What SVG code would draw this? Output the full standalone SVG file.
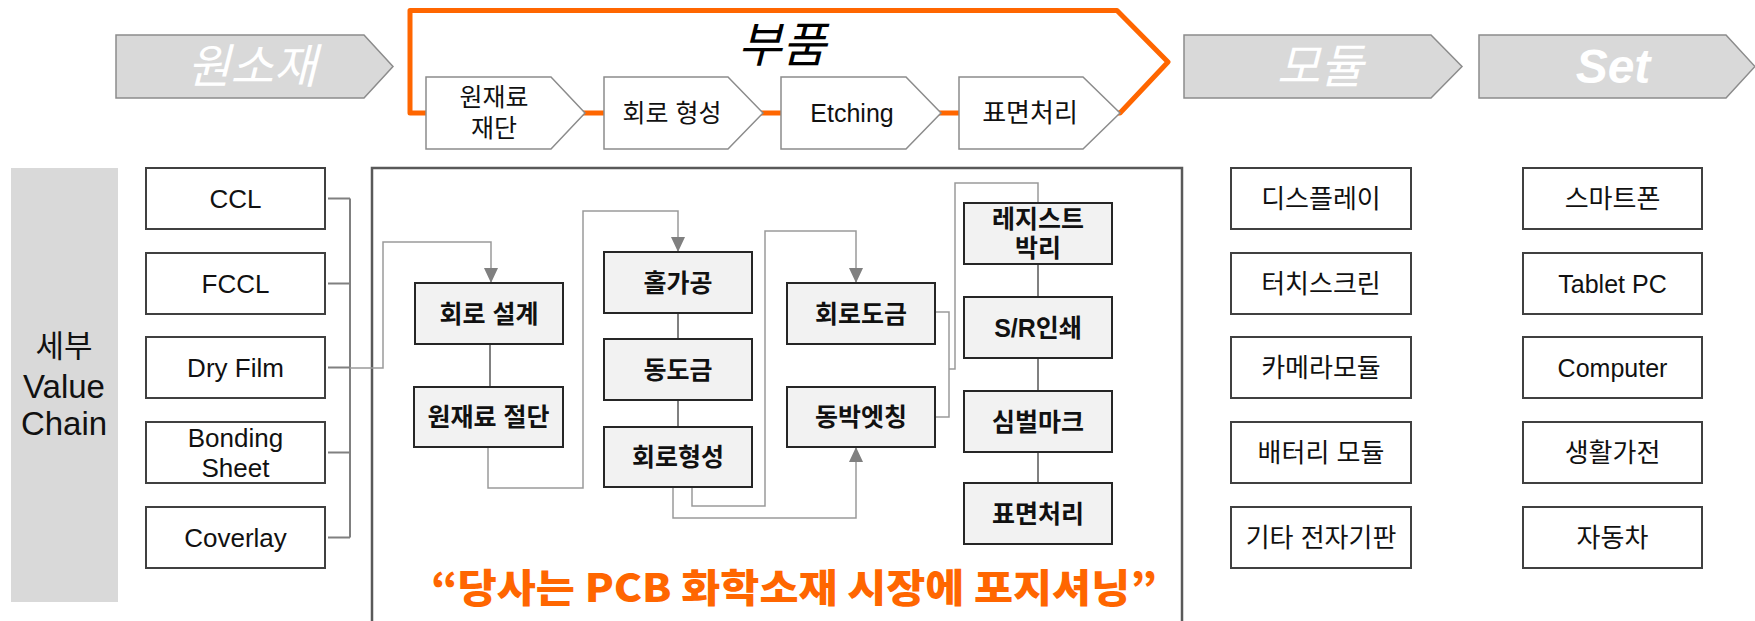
<svg xmlns="http://www.w3.org/2000/svg" width="1755" height="621" viewBox="0 0 1755 621">
<style>
text{font-family:"Liberation Sans","Noto Sans CJK KR",sans-serif;text-anchor:middle;dominant-baseline:central}
.stage{fill:#d9d9d9;stroke:#8c8c8c;stroke-width:1.5}
.stageT{fill:#fff;font-style:italic;font-size:47px}
.step{fill:#fff;stroke:#8c8c8c;stroke-width:1.5}
.stepT{fill:#111;font-size:25px}
.box{fill:#fff;stroke:#404040;stroke-width:2}
.boxT{fill:#111;font-size:26px}
.mT{fill:#111;font-size:26px}
.pbox{fill:#f2f2f2;stroke:#262626;stroke-width:2}
.pT{fill:#111;font-size:25px;font-weight:bold}
.ln{fill:none;stroke:#808080;stroke-width:2}
.lt{fill:none;stroke:#9a9a9a;stroke-width:1.5}
</style>
<defs>
<marker id="arr" viewBox="0 0 15 14" refX="15" refY="7" markerWidth="15" markerHeight="14" markerUnits="userSpaceOnUse" orient="auto"><path d="M0,0 L15,7 L0,14 Z" fill="#808080"/></marker>
</defs>
<rect width="1755" height="621" fill="#fff"/>

<g id="stage-raw">
<polygon class="stage" points="116,35 364,35 393,66.5 364,98 116,98"/>
<text class="stageT" x="252" y="66">원소재</text>
</g>
<g id="stage-parts">
<path d="M1120,113 L1168,62 L1117,10.5 H410 V113 Z" fill="none" stroke="#ff6600" stroke-width="5" stroke-linejoin="round"/>
<text x="782" y="45" style="font-size:48px;font-style:italic;fill:#000">부품</text>
</g>
<g id="stage-module">
<polygon class="stage" points="1184,35 1431,35 1462,66.5 1431,98 1184,98"/>
<text class="stageT" x="1320" y="66">모듈</text>
</g>
<g id="stage-set">
<polygon class="stage" points="1479,35 1726,35 1755,66.5 1726,98 1479,98"/>
<text class="stageT" x="1613" y="66" style="font-weight:bold;font-size:48px">Set</text>
</g>

<g id="step-cut">
<polygon class="step" points="426,77 551,77 585,113 551,149 426,149"/>
<text class="stepT" x="494" y="97">원재료</text>
<text class="stepT" x="494" y="128">재단</text>
</g>
<g id="step-circuit">
<polygon class="step" points="604,77 728,77 763,113 728,149 604,149"/>
<text class="stepT" x="672" y="113">회로 형성</text>
</g>
<g id="step-etching">
<polygon class="step" points="781,77 906,77 941,113 906,149 781,149"/>
<text class="stepT" x="852" y="113">Etching</text>
</g>
<g id="step-surface">
<polygon class="step" points="959,77 1083,77 1120,113 1083,149 959,149"/>
<text class="stepT" x="1030" y="113" style="font-size:26px">표면처리</text>
</g>

<g id="side-label">
<rect x="11" y="168" width="107" height="434" fill="#d9d9d9"/>
<text x="64" y="346" style="font-size:31px;fill:#111">세부</text>
<text x="64" y="386" style="font-size:33px;fill:#111">Value</text>
<text x="64" y="423" style="font-size:33px;fill:#111">Chain</text>
</g>

<g id="mat-ccl"><rect class="box" x="146" y="168" width="179" height="61"/><text class="boxT" x="235.5" y="198.5">CCL</text></g>
<g id="mat-fccl"><rect class="box" x="146" y="253" width="179" height="61"/><text class="boxT" x="235.5" y="283.5">FCCL</text></g>
<g id="mat-dryfilm"><rect class="box" x="146" y="337" width="179" height="61"/><text class="boxT" x="235.5" y="367.5">Dry Film</text></g>
<g id="mat-bonding"><rect class="box" x="146" y="422" width="179" height="61"/><text class="boxT" x="235.5" y="438">Bonding</text><text class="boxT" x="235.5" y="468">Sheet</text></g>
<g id="mat-coverlay"><rect class="box" x="146" y="507" width="179" height="61"/><text class="boxT" x="235.5" y="537.5">Coverlay</text></g>

<g id="process-frame">
<rect x="372" y="168" width="810" height="480" fill="none" stroke="#595959" stroke-width="2.5"/>
</g>

<g id="connectors">
<path class="ln" d="M328,198.5 H350 M328,283.5 H350 M328,367.5 H350 M328,452.5 H350 M328,537.5 H350 M350,198.5 V537.5"/>
<path class="lt" d="M350,368 H383 V242 H491 V283" marker-end="url(#arr)"/>
<path class="ln" d="M490,344 V387"/>
<path class="lt" d="M488,447 V488 H583 V211 H678 V252" marker-end="url(#arr)"/>
<path class="ln" d="M678,313 V339 M678,400 V427"/>
<path class="lt" d="M692,487 V506 H765 V231 H856 V283" marker-end="url(#arr)"/>
<path class="lt" d="M673,487 V518 H856 V447" marker-end="url(#arr)"/>
<path class="lt" d="M935,312 H949 V417 H935 M949,369 H955 V183 H1038 V203"/>
<path class="ln" d="M1038,264 V297 M1038,358 V391 M1038,452 V483"/>
</g>

<g id="p-design"><rect class="pbox" x="415" y="283" width="148" height="61"/><text class="pT" x="489" y="313.5">회로 설계</text></g>
<g id="p-cut"><rect class="pbox" x="414" y="387" width="149" height="60"/><text class="pT" x="488.5" y="417">원재료 절단</text></g>
<g id="p-hole"><rect class="pbox" x="604" y="252" width="148" height="61"/><text class="pT" x="678" y="282.5">홀가공</text></g>
<g id="p-copper"><rect class="pbox" x="604" y="339" width="148" height="61"/><text class="pT" x="678" y="369.5">동도금</text></g>
<g id="p-circuit"><rect class="pbox" x="604" y="427" width="148" height="60"/><text class="pT" x="678" y="457">회로형성</text></g>
<g id="p-plating"><rect class="pbox" x="787" y="283" width="148" height="61"/><text class="pT" x="861" y="313.5">회로도금</text></g>
<g id="p-etch"><rect class="pbox" x="787" y="387" width="148" height="60"/><text class="pT" x="861" y="417">동박엣칭</text></g>
<g id="p-resist"><rect class="pbox" x="964" y="203" width="148" height="61"/><text class="pT" x="1038" y="219">레지스트</text><text class="pT" x="1038" y="248">박리</text></g>
<g id="p-sr"><rect class="pbox" x="964" y="297" width="148" height="61"/><text class="pT" x="1038" y="327.5">S/R인쇄</text></g>
<g id="p-symbol"><rect class="pbox" x="964" y="391" width="148" height="61"/><text class="pT" x="1038" y="421.5">심벌마크</text></g>
<g id="p-surface"><rect class="pbox" x="964" y="483" width="148" height="61"/><text class="pT" x="1038" y="513.5">표면처리</text></g>

<g id="slogan">
<text x="794" y="585" textLength="726" lengthAdjust="spacingAndGlyphs" style="font-family:'Noto Sans CJK KR',sans-serif;font-size:39px;font-weight:900;fill:#ff6600">“당사는 PCB 화학소재 시장에 포지셔닝”</text>
</g>

<g id="mod-display"><rect class="box" x="1231" y="168" width="180" height="61"/><text class="mT" x="1321" y="198.5">디스플레이</text></g>
<g id="mod-touch"><rect class="box" x="1231" y="253" width="180" height="61"/><text class="mT" x="1321" y="283.5">터치스크린</text></g>
<g id="mod-camera"><rect class="box" x="1231" y="337" width="180" height="61"/><text class="mT" x="1321" y="367.5">카메라모듈</text></g>
<g id="mod-battery"><rect class="box" x="1231" y="422" width="180" height="61"/><text class="mT" x="1321" y="452.5">배터리 모듈</text></g>
<g id="mod-etc"><rect class="box" x="1231" y="507" width="180" height="61"/><text class="mT" x="1321" y="537.5">기타 전자기판</text></g>

<g id="set-phone"><rect class="box" x="1523" y="168" width="179" height="61"/><text class="mT" x="1612.5" y="198.5">스마트폰</text></g>
<g id="set-tablet"><rect class="box" x="1523" y="253" width="179" height="61"/><text class="mT" x="1612.5" y="283.5" style="font-size:25px">Tablet PC</text></g>
<g id="set-computer"><rect class="box" x="1523" y="337" width="179" height="61"/><text class="mT" x="1612.5" y="367.5" style="font-size:25px">Computer</text></g>
<g id="set-appliance"><rect class="box" x="1523" y="422" width="179" height="61"/><text class="mT" x="1612.5" y="452.5">생활가전</text></g>
<g id="set-car"><rect class="box" x="1523" y="507" width="179" height="61"/><text class="mT" x="1612.5" y="537.5">자동차</text></g>
</svg>
